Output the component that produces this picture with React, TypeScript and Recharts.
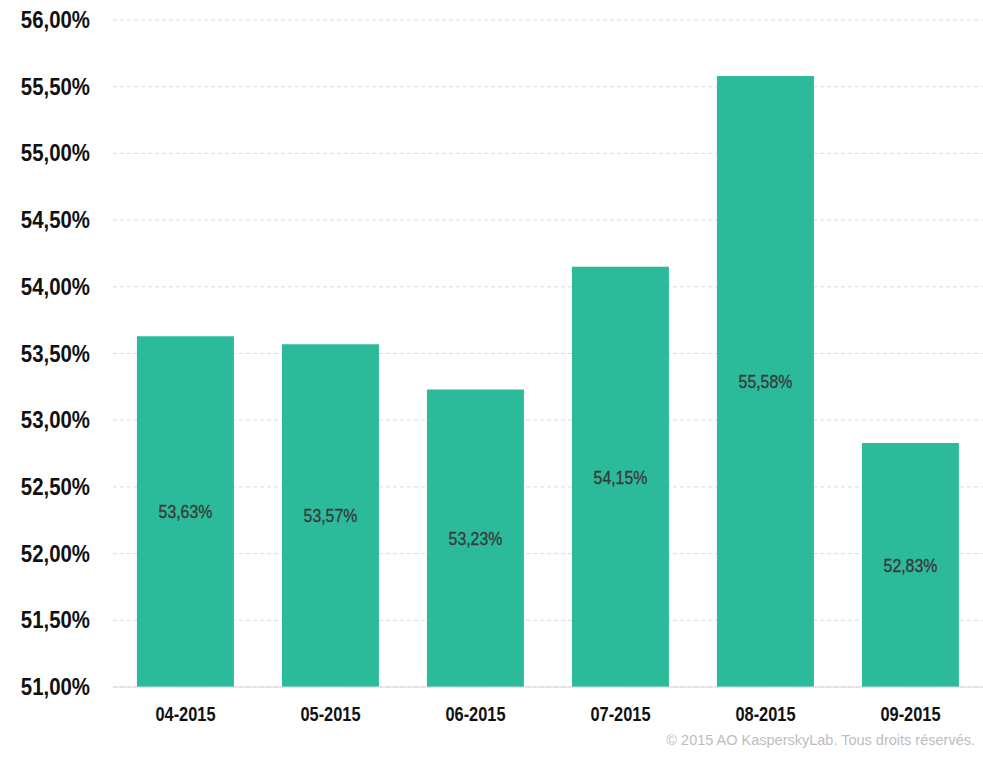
import React from 'react';
import { BarChart, Bar, XAxis, YAxis, CartesianGrid, LabelList } from 'recharts';

const categories = ['04-2015', '05-2015', '06-2015', '07-2015', '08-2015', '09-2015'];
const values = [53.63, 53.57, 53.23, 54.15, 55.58, 52.83];
const yTicks = [51, 51.5, 52, 52.5, 53, 53.5, 54, 54.5, 55, 55.5, 56];
const footer = '© 2015 AO KasperskyLab. Tous droits réservés.';

const data = categories.map((c, i) => ({ name: c, value: values[i] }));

const fmt = (v: number) => v.toFixed(2).replace('.', ',') + '%';
const FONT = '"Liberation Sans", Arial, sans-serif';

const YTick = (props: any) => {
  const { x, y, payload } = props;
  return (
    <text
      transform={`translate(${x},${y}) scale(0.85,1)`}
      textAnchor="end"
      dominantBaseline="central"
      fill="#111"
      fontSize={24}
      fontWeight={700}
      fontFamily={FONT}
    >
      {fmt(payload.value)}
    </text>
  );
};

const XTick = (props: any) => {
  const { x, y, payload } = props;
  return (
    <text
      transform={`translate(${x},${y}) scale(0.82,1)`}
      textAnchor="middle"
      dominantBaseline="central"
      fill="#111"
      fontSize={20}
      fontWeight={700}
      fontFamily={FONT}
    >
      {payload.value}
    </text>
  );
};

const BarLabel = (props: any) => {
  const { x, y, width, height, value } = props;
  const cx = x + width / 2;
  const cy = y + height / 2 + 1;
  return (
    <text
      transform={`translate(${cx},${cy}) scale(0.88,1)`}
      textAnchor="middle"
      dominantBaseline="central"
      fill="#3a3a3a"
      stroke="#3a3a3a"
      strokeWidth={0.35}
      fontSize={18}
      fontFamily={FONT}
    >
      {fmt(Number(value))}
    </text>
  );
};

export default function App() {
  return (
    <div style={{ position: 'absolute', left: 0, top: 0, width: 983, height: 759, background: '#fff' }}>
      <BarChart
        width={983}
        height={759}
        data={data}
        margin={{ top: 20, right: 0, left: 0, bottom: 0 }}
        barCategoryGap="16.5%"
      >
        <CartesianGrid vertical={false} stroke="#dcdcdc" strokeDasharray="4 3" />
        <XAxis
          dataKey="name"
          height={72}
          axisLine={{ stroke: '#d6d6d6' }}
          tickLine={false}
          tickSize={0}
          tickMargin={27}
          tick={<XTick />}
        />
        <YAxis
          type="number"
          domain={[51, 56]}
          ticks={yTicks}
          width={113}
          axisLine={false}
          tickLine={false}
          tickSize={0}
          tickMargin={23}
          tick={<YTick />}
        />
        <Bar dataKey="value" fill="#2bbb9b" isAnimationActive={false}>
          <LabelList dataKey="value" content={<BarLabel />} />
        </Bar>
      </BarChart>
      <div
        style={{
          position: 'absolute',
          right: 8,
          top: 732,
          fontSize: 14.5,
          color: '#bdbdbd',
          fontFamily: FONT,
          whiteSpace: 'nowrap',
        }}
      >
        {footer}
      </div>
    </div>
  );
}
